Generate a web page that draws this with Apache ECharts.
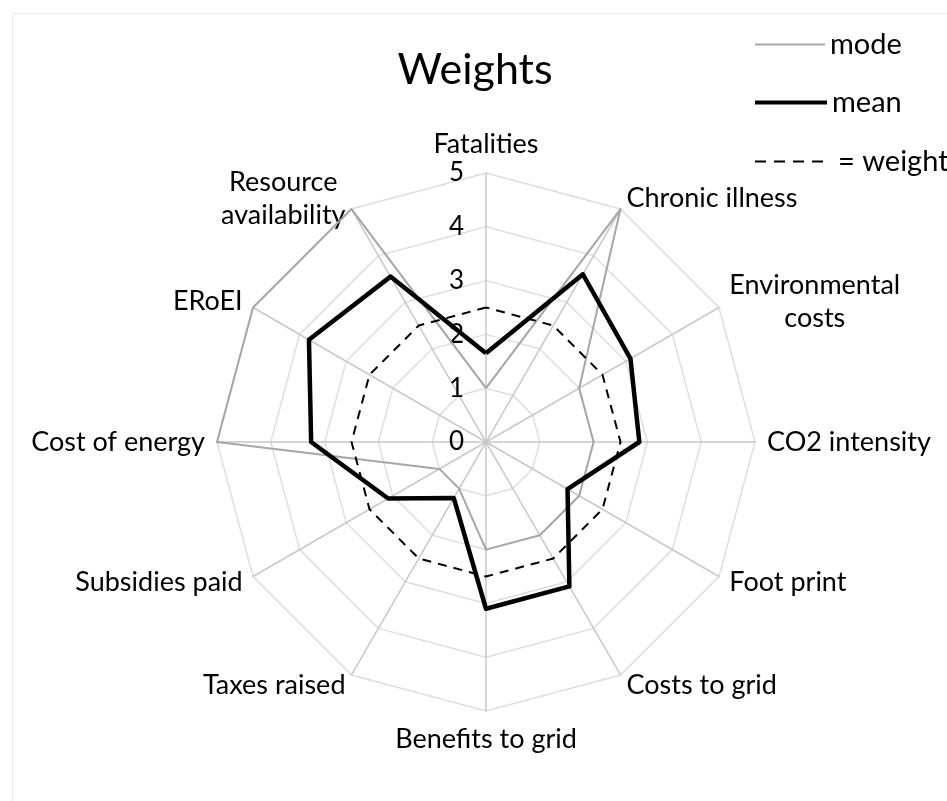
<!DOCTYPE html>
<html><head><meta charset="utf-8">
<script src="https://cdn.jsdelivr.net/npm/echarts@6/dist/echarts.min.js"></script>
<style>html,body{margin:0;padding:0;background:#fff}#c{width:947px;height:801px}</style>
</head><body><div id="c"></div>
<script>
// Categories in clockwise order starting from the top
const categories = ['Fatalities','Chronic illness','Environmental\ncosts','CO2 intensity','Foot print','Costs to grid','Benefits to grid','Taxes raised','Subsidies paid','Cost of energy','ERoEI','Resource\navailability'];
const modeValues   = [1, 5, 2, 2, 2, 2, 2, 1, 1, 5, 5, 5];
const meanValues   = [1.65, 3.6, 3.1, 2.85, 1.75, 3.1, 3.1, 1.2, 2.1, 3.25, 3.8, 3.55];
const weightValues = [2.5, 2.5, 2.5, 2.5, 2.5, 2.5, 2.5, 2.5, 2.5, 2.5, 2.5, 2.5];
const tickLabels = ['0','1','2','3','4','5'];
const axisMax = 5;

// ECharts radar runs counter-clockwise; reorder so the picture runs clockwise
const order = [0].concat(categories.map((_, i) => i).slice(1).reverse());
const pick = arr => order.map(i => arr[i]);

const FONT = 'Lato';
const TXT = '#000';
const LBL = 27;
const LEG = 29;

const indicators = pick(categories).map((name, k) => {
  const ind = { name: name, max: axisMax, min: 0 };
  if (k === 0) ind.axisLabel = { show: true };
  return ind;
});

const chart = echarts.init(document.getElementById('c'), null, { renderer: 'canvas' });
chart.setOption({
  backgroundColor: '#fff',
  animation: false,
  textStyle: { fontFamily: FONT },
  graphic: [{
    type: 'rect', shape: { x: 12.5, y: 13.5, width: 1000, height: 1000 },
    style: { fill: 'none', stroke: '#ececec', lineWidth: 1 }, silent: true, z: -10
  }],
  title: {
    text: 'Weights', left: 470, top: 44, textAlign: 'center',
    textStyle: { fontFamily: FONT, fontSize: 43, fontWeight: 'normal', color: TXT }
  },
  legend: [
    { left: 750, top: 25, orient: 'vertical', data: [{ name: 'mode', icon: 'path://M0,0h70v2h-70z', itemStyle: { color: '#a6a6a6' } }],
      itemWidth: 70, itemHeight: 2, textStyle: { fontFamily: FONT, fontSize: LEG, color: TXT, padding: [0,0,0,0] } },
    { left: 750, top: 83, orient: 'vertical', data: [{ name: 'mean', icon: 'path://M0,0h70v4h-70z', itemStyle: { color: '#000' } }],
      itemWidth: 72, itemHeight: 5, textStyle: { fontFamily: FONT, fontSize: LEG, color: TXT, padding: [0,0,0,0] } },
    { left: 750, top: 142, orient: 'vertical', data: [{ name: '= weight', icon: 'path://M0,0h11v2h-11z M19,0h11v2h-11z M38,0h11v2h-11z M57,0h11v2h-11z', itemStyle: { color: '#000' } }],
      itemWidth: 68, itemHeight: 2, textStyle: { fontFamily: FONT, fontSize: LEG, color: TXT, padding: [0,0,0,10] } }
  ],
  radar: {
    center: [486, 442],
    radius: 269,
    startAngle: 90,
    shape: 'polygon',
    splitNumber: 5,
    indicator: indicators,
    nameGap: 12,
    axisName: {
      color: TXT, fontFamily: FONT, fontSize: LBL,
      formatter: name => name.split('\n').map(s => '{c|' + s + '}').join('\n'),
      rich: { c: { align: 'center', fontFamily: FONT, fontSize: LBL, color: TXT, lineHeight: 33 } }
    },
    axisLine: { lineStyle: { color: '#c8c8c8', width: 1.5 } },
    splitLine: { lineStyle: { color: '#dedede', width: 1.5 } },
    splitArea: { show: false },
    axisTick: { show: false },
    axisLabel: {
      show: false, color: TXT, fontFamily: FONT, fontSize: 26, margin: 22,
      formatter: v => tickLabels[Math.round(v)]
    }
  },
  series: [{
    type: 'radar',
    symbol: 'none',
    data: [
      { name: 'mode', value: pick(modeValues), lineStyle: { color: '#a6a6a6', width: 2 }, itemStyle: { color: '#a6a6a6' } },
      { name: '= weight', value: pick(weightValues), lineStyle: { color: '#000', width: 2, type: [9, 7] }, itemStyle: { color: '#000' } },
      { name: 'mean', value: pick(meanValues), lineStyle: { color: '#000', width: 4.5 }, itemStyle: { color: '#000' } }
    ]
  }]
});
</script></body></html>
